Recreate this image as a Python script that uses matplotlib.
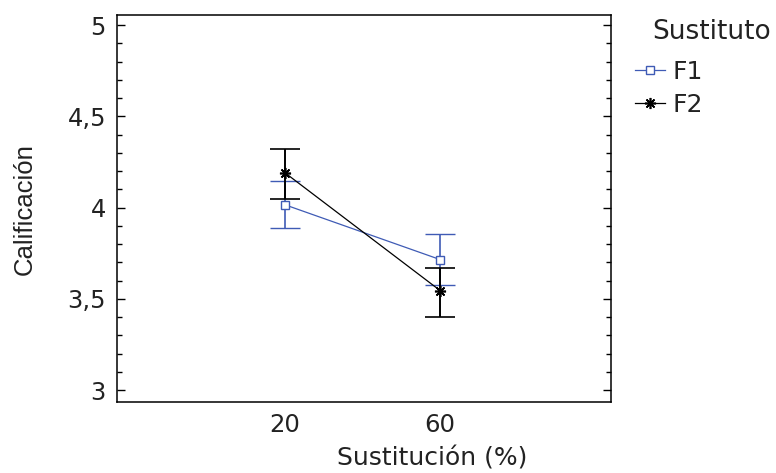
import matplotlib
matplotlib.use('Agg')
import matplotlib.pyplot as plt
from matplotlib.lines import Line2D
from matplotlib.ticker import MultipleLocator

# valores
sustitucion = [20, 60]
f1_media = [4.015, 3.715]
f1_inf = [3.887, 3.575]
f1_sup = [4.146, 3.855]
f2_media = [4.19, 3.545]
f2_inf = [4.045, 3.40]
f2_sup = [4.32, 3.67]
y_ticks = [3, 3.5, 4, 4.5, 5]
y_tick_labels = ['3', '3,5', '4', '4,5', '5']
x_tick_labels = ['20', '60']

AZUL = '#3f5bb5'
TEXTO = '#222222'

fig = plt.figure(figsize=(7.76, 4.73), dpi=100)
ax = fig.add_axes([0.1508, 0.150, 0.6366, 0.818])

f1_err = [[m - lo for m, lo in zip(f1_media, f1_inf)], [hi - m for m, hi in zip(f1_media, f1_sup)]]
f2_err = [[m - lo for m, lo in zip(f2_media, f2_inf)], [hi - m for m, hi in zip(f2_media, f2_sup)]]

ax.errorbar(sustitucion, f1_media, yerr=f1_err, color=AZUL, lw=0.9, elinewidth=1.2,
            capsize=11, capthick=1.2, marker='s', ms=6, mfc='white', mec=AZUL, mew=1.0, zorder=3)
ax.errorbar(sustitucion, f2_media, yerr=f2_err, color='black', lw=0.9, elinewidth=1.4,
            capsize=11, capthick=1.5, marker=(8, 2, 0), ms=8, mec='black', mew=1.2, zorder=4)

ax.set_xlim(-23.4, 104.1)
ax.set_ylim(2.934, 5.055)
ax.set_xticks(sustitucion, x_tick_labels)
ax.set_yticks(y_ticks, y_tick_labels)
ax.yaxis.set_minor_locator(MultipleLocator(0.1))

ax.tick_params(axis='x', length=0, pad=8, labelsize=17.5, labelcolor=TEXTO)
ax.tick_params(axis='y', which='major', direction='in', left=True, right=True,
               length=6, width=1, pad=8, labelsize=17.5, labelcolor=TEXTO)
ax.tick_params(axis='y', which='minor', direction='in', left=True, right=True,
               length=3.6, width=1)
for spine in ax.spines.values():
    spine.set_linewidth(1.1)

ax.set_xlabel('Sustitución (%)', fontsize=18, color=TEXTO)
ax.xaxis.set_label_coords(0.638, -0.115)
ax.set_ylabel('Calificación', fontsize=18.5, family='Liberation Sans', labelpad=22, color=TEXTO)

# leyenda
fig.text(652 / 776, 1 - 32 / 473, 'Sustituto', fontsize=19, ha='left', va='center', color=TEXTO)
handles = [
    Line2D([], [], color=AZUL, lw=0.9, marker='s', ms=6, mfc='white', mec=AZUL),
    Line2D([], [], color='black', lw=0.9, marker=(8, 2, 0), ms=8, mew=1.2),
]
leg = fig.legend(handles, ['F1', 'F2'], loc='upper left', bbox_to_anchor=(0.818, 0.874),
                 frameon=False, fontsize=18, borderpad=0, borderaxespad=0,
                 handlelength=1.2, handletextpad=0.32, labelspacing=0.36)
for t in leg.get_texts():
    t.set_color(TEXTO)

fig.savefig('out.png', dpi=100)
